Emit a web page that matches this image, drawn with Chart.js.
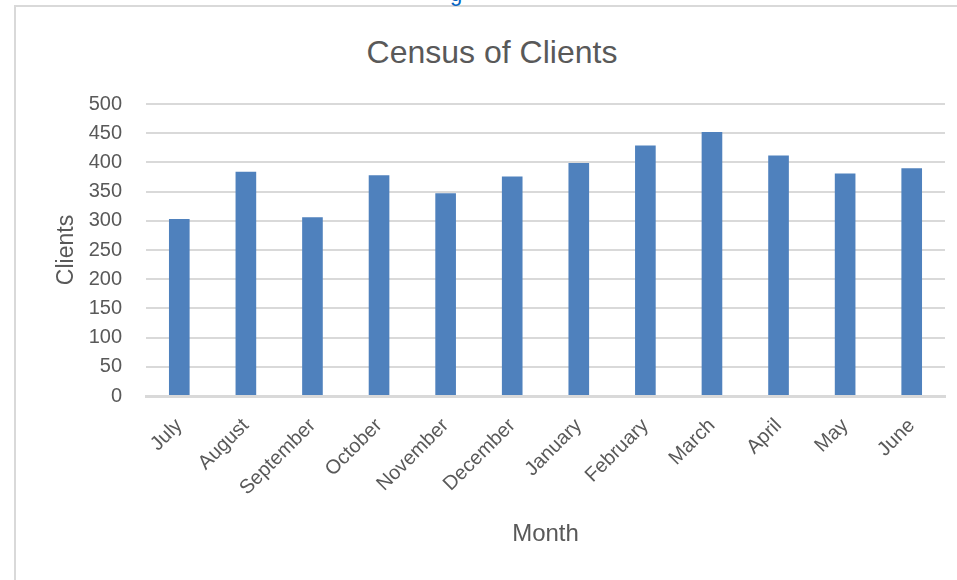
<!DOCTYPE html>
<html>
<head>
<meta charset="utf-8">
<script src="https://cdn.jsdelivr.net/npm/chart.js@4/dist/chart.umd.min.js"></script>
<style>
  html, body { margin: 0; padding: 0; background: #fff; width: 957px; height: 580px; overflow: hidden; }
  #frame { position: absolute; left: 14px; top: 5px; width: 960px; height: 600px; border-left: 2px solid #d9d9d9; border-top: 2px solid #d9d9d9; }
  #link { position: absolute; left: 450px; top: -19px; font-family: "Liberation Sans", Arial, sans-serif; font-size: 22px; color: #0563c1; }
  #title { position: absolute; left: 292px; width: 400px; top: 36px; text-align: center; font-family: "Liberation Sans", Arial, sans-serif; font-size: 32px; line-height: 32px; color: #595959; white-space: nowrap; }
  #wrap { position: absolute; left: 0; top: 0; width: 957px; height: 580px; }
</style>
</head>
<body>
<div id="frame"></div>
<div id="link">g</div>
<div id="title">Census of Clients</div>
<div id="wrap"><canvas id="c" width="957" height="580"></canvas></div>
<script>
const categories = ["July","August","September","October","November","December","January","February","March","April","May","June"];
const clients = [303, 384, 306, 378, 347, 376, 399, 429, 452, 412, 381, 390];
const yTicks = [0, 50, 100, 150, 200, 250, 300, 350, 400, 450, 500];

const FONT = '"Liberation Sans", Arial, sans-serif';
const GREY = '#595959';

new Chart(document.getElementById('c'), {
  type: 'bar',
  data: {
    labels: categories,
    datasets: [{
      label: 'Clients',
      data: clients,
      backgroundColor: '#4f81bd',
      borderWidth: 0,
      barPercentage: 0.31,
      categoryPercentage: 1.0
    }]
  },
  options: {
    responsive: false,
    animation: false,
    layout: { padding: { left: 0, right: 12, top: 104, bottom: 0 } },
    plugins: {
      legend: { display: false },
      tooltip: { enabled: false },
      title: { display: false }
    },
    scales: {
      x: {
        grid: { display: false, drawTicks: false },
        border: { display: true, color: '#d9d9d9', width: 3 },
        ticks: {
          color: GREY,
          font: { family: FONT, size: 20 },
          maxRotation: 45,
          minRotation: 45,
          padding: 18,
          autoSkip: false
        },
        title: {
          display: true,
          text: 'Month',
          color: GREY,
          font: { family: FONT, size: 24 },
          padding: { top: 0, bottom: 31 }
        },
        afterFit: (s) => { s.height = 184; }
      },
      y: {
        min: 0,
        max: 500,
        afterBuildTicks: (s) => { s.ticks = yTicks.map(v => ({ value: v })); },
        grid: { color: '#d9d9d9', lineWidth: 2, drawTicks: false },
        border: { display: false },
        ticks: {
          color: GREY,
          font: { family: FONT, size: 20 },
          padding: 24
        },
        title: {
          display: true,
          text: 'Clients',
          color: GREY,
          font: { family: FONT, size: 23 },
          padding: { top: 53, bottom: 0 }
        },
        afterFit: (s) => { s.width = 146; }
      }
    }
  }
});
</script>
</body>
</html>
